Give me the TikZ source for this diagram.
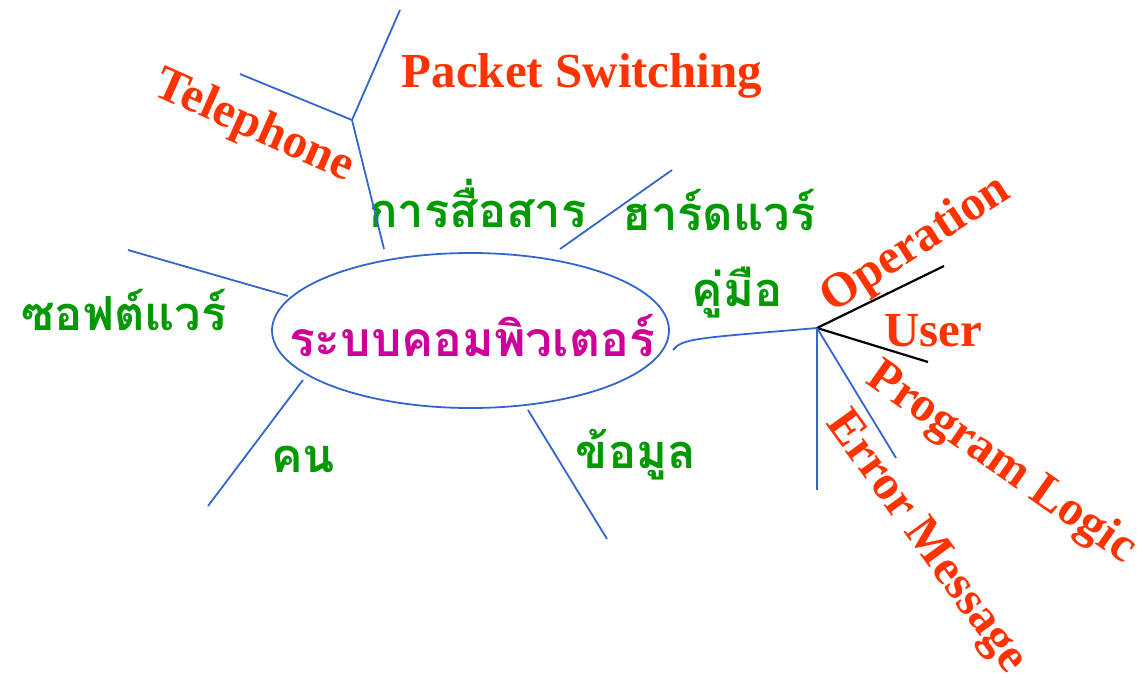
\documentclass[tikz,border=0pt]{standalone}
\usepackage{fontspec}
\setmainfont{Liberation Serif}
\newfontfamily\thai[Script=Thai]{Loma}
\usetikzlibrary{shapes.geometric}
\definecolor{orangered}{HTML}{FF3300}
\definecolor{thgreen}{HTML}{009900}
\definecolor{hubmag}{HTML}{CC0099}
\definecolor{lineblue}{HTML}{3366CC}
\begin{document}
\begin{tikzpicture}[x=1pt,y=-1pt,
  en/.style={text=orangered, font=\bfseries\fontsize{49}{51}\selectfont, inner sep=0pt},
  th/.style={text=thgreen, font=\thai\bfseries\fontsize{47}{50}\selectfont, inner sep=0pt},
  link/.style={draw=lineblue, line width=1.8pt},
  blk/.style={draw=black, line width=2.2pt},
  hub/.style={ellipse, draw=lineblue, line width=1.8pt, minimum width=397pt, minimum height=155pt, inner sep=0pt}]
\useasboundingbox (0,0) rectangle (1147,680);
% central node
\node[hub] (core) at (470.5,330.5) {};
\node[text=hubmag, font=\thai\bfseries\fontsize{48}{50}\selectfont, inner sep=0pt] (title) at (472,336) {ระบบคอมพิวเตอร์};
% branch texts
\node[th] (comm) at (478,203) {การสื่อสาร};
\node[th] (hw) at (719,210) {ฮาร์ดแวร์};
\node[th] (sw) at (124,310) {ซอฟต์แวร์};
\node[th] (man) at (737,293) {คู่มือ};
\node[th] (ppl) at (303,459) {คน};
\node[th] (data) at (636,455) {ข้อมูล};
% english labels
\node[en] (pkt) at (582,76) {Packet Switching};
\node[en, rotate=-24] (tel) at (254,127) {Telephone};
\node[en, rotate=33] (op) at (916,245) {Operation};
\node[en] (usr) at (933,331) {User};
\node[en, rotate=-35] (pl) at (1001,464) {Program Logic};
\node[en, rotate=-54] (err) at (925,543) {Error Message};
% coordinates
\coordinate (c1s) at (384,249);
\coordinate (cj) at (352,120);
\coordinate (c1a) at (400,10);
\coordinate (c1b) at (240,74);
\coordinate (hws) at (560,249);
\coordinate (hwe) at (672,170);
\coordinate (sws) at (288,296);
\coordinate (swe) at (128,250);
\coordinate (pps) at (303,380);
\coordinate (ppe) at (208,506);
\coordinate (dts) at (528,410);
\coordinate (dte) at (607,539);
\coordinate (mns) at (673,350);
\coordinate (mj) at (817,328);
\coordinate (opE) at (944,266);
\coordinate (usE) at (928,362);
\coordinate (plE) at (896,458);
\coordinate (erE) at (817,490);
% connectors
\draw[link] (c1s) -- (cj) -- (c1a);
\draw[link] (cj) -- (c1b);
\draw[link] (hws) -- (hwe);
\draw[link] (sws) -- (swe);
\draw[link] (pps) -- (ppe);
\draw[link] (dts) -- (dte);
\draw[link] (mns) .. controls (682,338) and (700,338) .. (mj);
\draw[blk] (mj) -- (opE);
\draw[blk] (mj) -- (usE);
\draw[link] (mj) -- (plE);
\draw[link] (mj) -- (erE);
\end{tikzpicture}
\end{document}
